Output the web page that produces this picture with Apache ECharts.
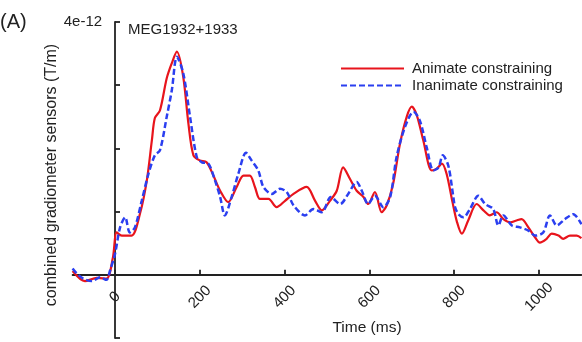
<!DOCTYPE html>
<html>
<head>
<meta charset="utf-8">
<script src="https://cdn.jsdelivr.net/npm/echarts@6/dist/echarts.min.js"></script>
<style>
html,body{margin:0;padding:0;background:#fff;}
#chart{width:582px;height:342px;}
</style>
</head>
<body>
<div id="chart"></div>
<script>
// values in units of 1e-12 T/m
var redTime = [-100,-71,-43,-20,-5,4,16,39,59,75,87,94,106,122,134,146,161,173,185,200,216,232,248,267,287,303,318,330,342,362,381,401,421,452,472,488,507,523,538,554,570,586,597,613,629,641,656,672,688,700,712,727,747,759,771,782,796,806,818,833,853,869,884,900,916,932,947,959,975,991,1002,1018,1030,1046,1057,1073,1089,1100];
var redValue = [0.06,-0.10,-0.05,-0.06,0.27,0.67,0.62,0.62,0.97,1.49,2.13,2.48,2.60,3.11,3.35,3.53,3.13,2.40,1.89,1.81,1.78,1.57,1.33,1.15,1.39,1.57,1.57,1.39,1.20,1.20,1.07,1.17,1.28,1.39,1.17,1.02,1.17,1.33,1.70,1.52,1.33,1.23,1.12,1.31,0.99,1.10,1.44,2.07,2.50,2.66,2.52,2.13,1.65,1.68,1.76,1.60,1.15,0.85,0.65,0.86,1.12,1.02,0.94,0.99,0.88,0.83,0.86,0.88,0.75,0.59,0.51,0.57,0.65,0.62,0.57,0.62,0.62,0.58];
var blueTime = [-100,-90,-75,-55,-35,-20,-12,0,12,24,35,47,63,79,94,106,122,134,146,161,177,193,205,220,236,248,259,275,291,309,322,338,350,370,389,405,421,448,468,488,509,531,550,570,582,597,613,633,649,664,684,704,719,735,751,763,773,786,798,802,810,822,837,857,873,892,904,916,936,955,975,991,1010,1026,1042,1061,1081,1100];
var blueValue = [0.10,0.02,-0.06,-0.10,-0.04,-0.08,0.06,0.33,0.75,0.91,0.67,0.75,1.17,1.60,1.89,1.97,2.50,2.92,3.45,3.19,2.50,1.86,1.78,1.76,1.49,1.23,0.94,1.23,1.60,1.93,1.81,1.65,1.39,1.28,1.36,1.31,1.10,0.94,1.04,0.99,1.23,1.12,1.28,1.47,1.33,1.12,1.25,1.07,1.23,1.86,2.34,2.58,2.44,2.02,1.65,1.70,1.89,1.73,1.23,1.07,0.96,0.91,1.04,1.25,1.12,1.04,0.78,0.94,0.78,0.75,0.70,0.62,0.67,0.94,0.78,0.88,0.96,0.80];
var seriesNames = ['Animate constraining', 'Inanimate constraining'];
var xTickValues = [0, 200, 400, 600, 800, 1000];
var yTopLabel = '4e-12';

function pairs(t, v) { return t.map(function (x, i) { return [x, v[i]]; }); }

var FONT = "'Liberation Sans', Arial, sans-serif";
var chart = echarts.init(document.getElementById('chart'), null, {renderer: 'canvas'});
chart.setOption({
  animation: false,
  backgroundColor: '#fff',
  grid: {left: 72.6, right: 0.6, top: 22, bottom: 4, containLabel: false, outerBoundsMode: 'none'},
  legend: {
    orient: 'vertical', left: 335, top: 56, itemWidth: 63, itemHeight: 14, itemGap: 2,
    itemStyle: {opacity: 0},
    textStyle: {fontFamily: FONT, fontSize: 15, color: '#222', padding: [0, 0, 0, 3]},
    data: seriesNames
  },
  xAxis: {
    type: 'value', min: -100, max: 1100,
    axisLine: {onZero: true, lineStyle: {color: '#222', width: 1.8}},
    axisTick: {inside: true, length: 5, customValues: xTickValues, lineStyle: {color: '#222', width: 1.8}},
    axisLabel: {customValues: xTickValues, rotate: 45, align: 'center', verticalAlign: 'middle', margin: -41,
      fontFamily: FONT, fontSize: 15, color: '#222',
      formatter: function (v) { return String(v); }},
    splitLine: {show: false}
  },
  yAxis: {
    type: 'value', min: -1, max: 4, interval: 1,
    axisLine: {show: true, onZero: true, lineStyle: {color: '#222', width: 1.8}},
    axisTick: {show: true, inside: true, length: 5, lineStyle: {color: '#222', width: 1.8}},
    axisLabel: {margin: -29.5, fontFamily: FONT, fontSize: 15, color: '#222',
      formatter: function (v) { return v === 4 ? yTopLabel : ''; }},
    splitLine: {show: false}
  },
  graphic: [
    {type: 'text', left: 0, top: 12, style: {text: '(A)', font: '20px ' + FONT, fill: '#222'}},
    {type: 'text', x: 128, y: 30, style: {text: 'MEG1932+1933', font: '15px ' + FONT, fill: '#222', verticalAlign: 'middle'}},
    {type: 'text', x: 367, y: 328, style: {text: 'Time (ms)', font: '15.5px ' + FONT, fill: '#222', align: 'center', verticalAlign: 'middle'}},
    {type: 'text', x: 52, y: 175, rotation: Math.PI / 2,
      style: {text: 'combined gradiometer sensors (T/m)', font: '16px ' + FONT, fill: '#222', align: 'center', verticalAlign: 'middle'}}
  ],
  series: [
    {name: seriesNames[0], type: 'line', data: pairs(redTime, redValue), smooth: 0.3, symbol: 'none',
      itemStyle: {color: '#e8141c'}, lineStyle: {color: '#e8141c', width: 2.2}},
    {name: seriesNames[1], type: 'line', data: pairs(blueTime, blueValue), smooth: 0.3, symbol: 'none',
      itemStyle: {color: '#2b3ff0'}, lineStyle: {color: '#2b3ff0', width: 2.5, type: [6, 3]}}
  ]
});
</script>
</body>
</html>
